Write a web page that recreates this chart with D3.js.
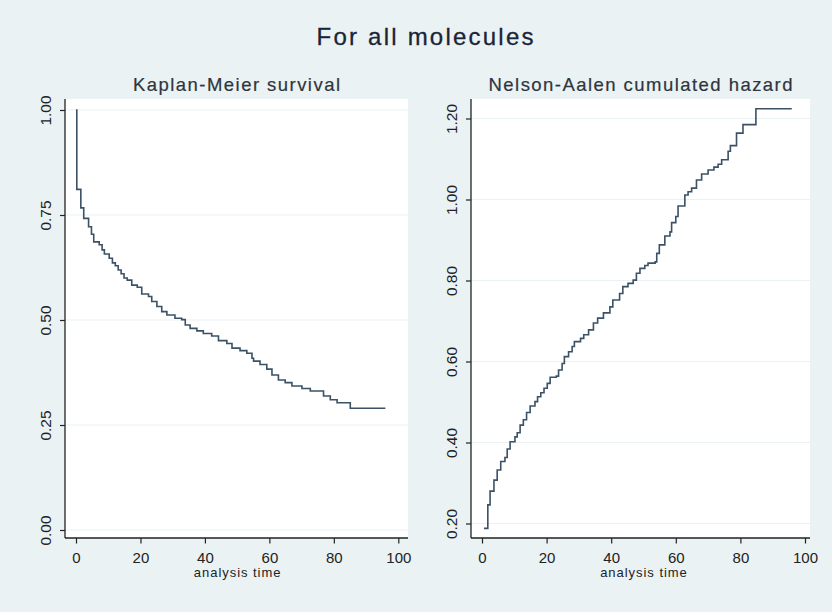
<!DOCTYPE html>
<html>
<head>
<meta charset="utf-8">
<script src="https://cdn.jsdelivr.net/npm/d3@7"></script>
<style>
  body { margin: 0; background: #eaf2f3; }
  svg { display: block; font-family: "Liberation Sans", Arial, sans-serif; }
</style>
</head>
<body>
<svg></svg>
<script>
// Kaplan-Meier survival: time of each step and survival after it
const kmTime = [0, 0.25, 1.5, 2.4, 3.9, 4.8, 5.5, 7.2, 8.1, 8.8, 10.3, 11.3, 12.2, 13.1, 14.0, 14.9,
  15.9, 17.3, 19.0, 20.4, 22.5, 23.5, 25.1, 26.6, 28.2, 30.7, 32.8, 33.9, 35.4, 37.5, 39.5,
  42.1, 44.2, 46.8, 48.4, 50.9, 53.0, 54.6, 55.1, 57.1, 59.2, 60.8, 62.8, 64.9, 67.0, 70.1,
  72.7, 76.8, 78.9, 81.0, 85.1, 96]
const kmSurv = [1.000, 0.811, 0.767, 0.742, 0.722, 0.704, 0.686, 0.679, 0.667, 0.657, 0.647, 0.636, 0.629, 0.619, 0.610, 0.600,
  0.595, 0.583, 0.578, 0.562, 0.556, 0.544, 0.532, 0.520, 0.512, 0.504, 0.501, 0.488, 0.480, 0.474, 0.468,
  0.462, 0.451, 0.444, 0.433, 0.427, 0.421, 0.409, 0.402, 0.394, 0.383, 0.369, 0.357, 0.351, 0.343, 0.337,
  0.331, 0.319, 0.310, 0.303, 0.290, 0.290]

// Nelson-Aalen cumulative hazard
const naTime = [0.6, 1.8, 2.5, 3.7, 4.7, 5.8, 7.1, 7.8, 8.7, 10.2, 10.9, 11.8, 12.8, 13.8, 14.9,
  16.4, 17.2, 18.2, 19.2, 20.2, 21.1, 23.0, 23.7, 24.8, 25.5, 26.8, 27.9, 28.6, 30.5, 31.5,
  33.0, 34.5, 35.8, 37.6, 39.6, 40.5, 42.6, 43.6, 45.2, 46.8, 47.8, 48.9, 50.4, 51.4, 53.6,
  54.1, 54.9, 56.6, 58.2, 58.7, 60.0, 60.7, 62.8, 63.8, 64.9, 66.4, 68.0, 70.0, 71.8, 73.1,
  74.2, 76.2, 76.9, 78.8, 80.8, 84.8, 95.9]
const naHaz = [0.188, 0.246, 0.280, 0.307, 0.332, 0.353, 0.363, 0.384, 0.402, 0.414, 0.424, 0.443, 0.456, 0.474, 0.490,
  0.501, 0.513, 0.523, 0.534, 0.546, 0.561, 0.564, 0.579, 0.595, 0.612, 0.624, 0.637, 0.649, 0.657, 0.666,
  0.678, 0.695, 0.707, 0.720, 0.735, 0.752, 0.768, 0.785, 0.793, 0.801, 0.818, 0.830, 0.837, 0.843, 0.846,
  0.867, 0.888, 0.910, 0.920, 0.943, 0.958, 0.984, 1.011, 1.019, 1.028, 1.048, 1.063, 1.073, 1.080, 1.087,
  1.098, 1.119, 1.133, 1.164, 1.185, 1.224, 1.224]

const xTicks = [0, 20, 40, 60, 80, 100]
const kmTicks = [0, 0.25, 0.5, 0.75, 1]
const naTicks = [0.2, 0.4, 0.6, 0.8, 1.0, 1.2]

const svg = d3.select("svg")
    .attr("width", 832)
    .attr("height", 612)

svg.append("rect")
    .attr("width", 832)
    .attr("height", 612)
    .attr("fill", "#eaf2f3")

// main title
svg.append("text")
    .attr("x", 425)
    .attr("y", 44.5)
    .attr("text-anchor", "middle")
    .attr("font-size", 24)
    .attr("fill", "#1a2438")
    .attr("stroke", "#1a2438")
    .attr("stroke-width", 0.3)
    .attr("textLength", 217)
    .attr("lengthAdjust", "spacing")
    .text("For all molecules")

const panels = [
  { title: "Kaplan-Meier survival", titleLen: 207, left: 65, right: 408,
    times: kmTime, values: kmSurv, ticks: kmTicks,
    x: [76, 398.3], yDomain: [0, 1], yRange: [530, 110] },
  { title: "Nelson-Aalen cumulated hazard", titleLen: 304, left: 471, right: 810,
    times: naTime, values: naHaz, ticks: naTicks,
    x: [482, 805], yDomain: [0.2, 1.2], yRange: [523.5, 118.5] }
]

const plotTop = 99, plotBottom = 538

panels.forEach(p => {
    const scaleX = d3.scaleLinear().domain([0, 100]).range(p.x)
    const scaleY = d3.scaleLinear().domain(p.yDomain).range(p.yRange)

    // white plot region
    svg.append("rect")
        .attr("x", p.left)
        .attr("y", plotTop)
        .attr("width", p.right - p.left)
        .attr("height", plotBottom - plotTop)
        .attr("fill", "#ffffff")

    // subtitle
    svg.append("text")
        .attr("x", (p.left + p.right) / 2)
        .attr("y", 90.5)
        .attr("text-anchor", "middle")
        .attr("font-size", 18.5)
        .attr("fill", "#2e3540")
        .attr("stroke", "#2e3540")
        .attr("stroke-width", 0.2)
        .attr("textLength", p.titleLen)
        .attr("lengthAdjust", "spacing")
        .text(p.title)

    // gridlines
    svg.append("g")
        .selectAll("line")
        .data(p.ticks)
        .enter()
        .append("line")
        .attr("x1", p.left)
        .attr("x2", p.right)
        .attr("y1", d => scaleY(d))
        .attr("y2", d => scaleY(d))
        .attr("stroke", "#eaf1f2")
        .attr("stroke-width", 1.2)

    // curve
    const pts = p.times.map((t, i) => [t, p.values[i]])
    svg.append("path")
        .datum(pts)
        .attr("fill", "none")
        .attr("stroke", "#3b5166")
        .attr("stroke-width", 1.6)
        .attr("d", d3.line()
            .x(d => scaleX(d[0]))
            .y(d => scaleY(d[1]))
            .curve(d3.curveStepAfter))

    // y axis
    const yAxis = svg.append("g")
        .attr("transform", `translate(${p.left},0)`)
        .call(d3.axisLeft(scaleY)
            .tickValues(p.ticks)
            .tickFormat(d3.format(".2f"))
            .tickSize(5)
            .tickSizeOuter(0))
    yAxis.select(".domain").remove()
    yAxis.selectAll(".tick line").attr("stroke", "#222").attr("stroke-width", 1.2)
    yAxis.selectAll(".tick text")
        .attr("transform", "rotate(-90)")
        .attr("x", 0)
        .attr("y", -14)
        .attr("dy", 0)
        .attr("text-anchor", "middle")
        .attr("font-size", 15.5)
        .attr("font-family", "Liberation Sans, Arial, sans-serif")
        .attr("fill", "#222")

    // x axis
    const xAxis = svg.append("g")
        .attr("transform", `translate(0,${plotBottom})`)
        .call(d3.axisBottom(scaleX)
            .tickValues(xTicks)
            .tickSize(5.5)
            .tickSizeOuter(0))
    xAxis.select(".domain").remove()
    xAxis.selectAll(".tick line").attr("stroke", "#222").attr("stroke-width", 1.2)
    xAxis.selectAll(".tick text")
        .attr("y", 24.5)
        .attr("dy", 0)
        .attr("font-size", 15)
        .attr("font-family", "Liberation Sans, Arial, sans-serif")
        .attr("fill", "#222")

    // axis lines
    svg.append("line")
        .attr("x1", p.left).attr("x2", p.left)
        .attr("y1", plotTop).attr("y2", plotBottom)
        .attr("stroke", "#222").attr("stroke-width", 1.3)
    svg.append("line")
        .attr("x1", p.left).attr("x2", p.right)
        .attr("y1", plotBottom).attr("y2", plotBottom)
        .attr("stroke", "#222").attr("stroke-width", 1.3)

    // x axis title
    svg.append("text")
        .attr("x", scaleX(50))
        .attr("y", 577)
        .attr("text-anchor", "middle")
        .attr("font-size", 13)
        .attr("fill", "#222")
        .attr("textLength", 86.7)
        .attr("lengthAdjust", "spacing")
        .text("analysis time")
})
</script>
</body>
</html>
